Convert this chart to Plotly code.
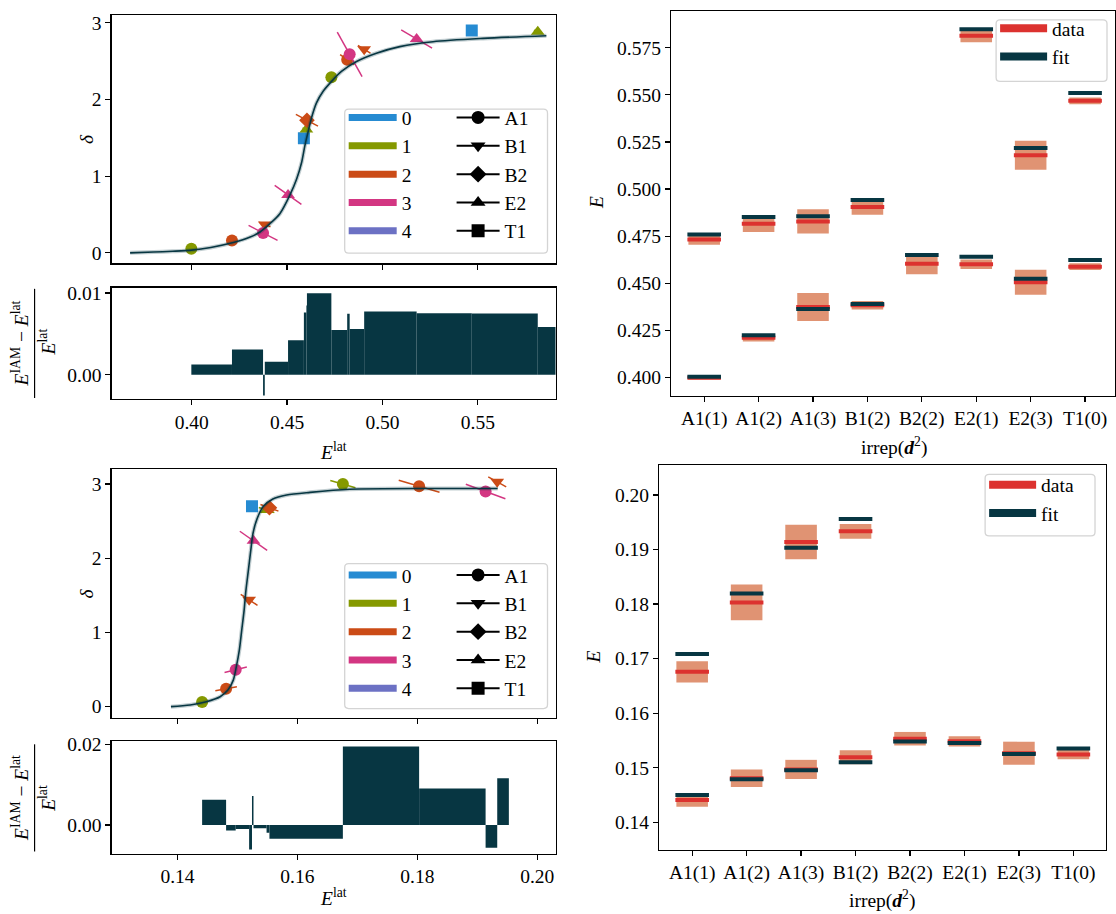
import numpy as np
import plotly.graph_objects as go

W, H = 1116, 914
FONT = "Liberation Serif"
FS = 19.5

# ---------------- data ----------------
categories = ["A1(1)", "A1(2)", "A1(3)", "B1(2)", "B2(2)", "E2(1)", "E2(3)", "T1(0)"]
d2_labels = ["0", "1", "2", "3", "4"]
d2_colors = ["#268bd2", "#859900", "#cb4b16", "#d33682", "#6c71c4"]
irrep_labels = ["A1", "B1", "B2", "E2", "T1"]
irrep_symbols = ["circle", "triangle-down", "diamond", "triangle-up", "square"]

# top dataset
top_cat = ["A1(1)", "A1(1)", "A1(2)", "A1(2)", "A1(3)", "A1(3)", "B1(2)", "B1(2)",
           "B2(2)", "E2(1)", "E2(1)", "E2(3)", "E2(3)", "T1(0)", "T1(0)"]
top_E = [0.3998, 0.4732, 0.4211, 0.4815, 0.4374, 0.4828, 0.4383, 0.4904,
         0.4604, 0.4601, 0.5814, 0.4505, 0.5179, 0.4588, 0.5468]
top_err = [0.0009, 0.0028, 0.0020, 0.0043, 0.0074, 0.0064, 0.0022, 0.0040,
           0.0056, 0.0025, 0.0035, 0.0066, 0.0077, 0.0018, 0.0018]
top_fit = [0.4003, 0.4758, 0.4224, 0.4851, 0.4363, 0.4855, 0.4390, 0.4942,
           0.4650, 0.4640, 0.5848, 0.4524, 0.5218, 0.4623, 0.5509]
top_delta = [0.052, 2.29, 0.16, 2.52, 0.26, 2.59, 0.37, 2.655,
             1.73, 1.61, 2.885, 0.756, 2.79, 1.495, 2.90]
top_dE = [0.0010, 0.0015, 0.0015, 0.0037, 0.0076, 0.0065, 0.0030, 0.0033,
          0.0058, 0.0020, 0.0020, 0.0070, 0.0081, 0.0015, 0.0015]
top_ddelta = [-0.010, -0.030, -0.020, -0.065, -0.097, -0.290, -0.030, -0.050,
              -0.076, -0.020, -0.020, -0.123, -0.119, -0.020, -0.020]
top_curve_E = [0.3677, 0.3800, 0.3900, 0.4000, 0.4100, 0.4218, 0.4300, 0.4358,
               0.4410, 0.4462, 0.4515, 0.4550, 0.4576, 0.4593, 0.4611, 0.4628,
               0.4654, 0.4689, 0.4733, 0.4785, 0.4864, 0.4968, 0.5091, 0.5265,
               0.5527, 0.5859]
top_curve_delta = [0.000, 0.010, 0.020, 0.035, 0.070, 0.134, 0.200, 0.272,
                   0.380, 0.510, 0.756, 0.963, 1.179, 1.395, 1.589, 1.762,
                   1.956, 2.108, 2.237, 2.367, 2.496, 2.604, 2.690, 2.755,
                   2.798, 2.833]

# bottom dataset
bot_cat = ["A1(1)", "A1(1)", "A1(2)", "A1(2)", "A1(3)", "A1(3)", "B1(2)", "B1(2)",
           "B2(2)", "E2(1)", "E2(3)", "T1(0)"]
bot_E = [0.1441, 0.16758, 0.1481, 0.1803, 0.1497, 0.19139, 0.15194, 0.19333,
         0.15533, 0.15485, 0.15267, 0.15242]
bot_err = [0.00124, 0.00194, 0.0016, 0.00328, 0.00176, 0.00316, 0.0013, 0.00134,
           0.00124, 0.00094, 0.00212, 0.00085]
bot_fit = [0.1450, 0.17085, 0.1479, 0.18194, 0.14955, 0.1903, 0.15101, 0.19558,
           0.1548, 0.15455, 0.15255, 0.15352]
bot_delta = [0.062, 3.00, 0.24, 2.97, 0.497, 2.90, 1.44, 3.03,
             2.68, 2.65, 2.235, 2.70]
bot_dE = [0.0010, 0.0021, 0.0018, 0.0034, 0.00186, 0.0033, 0.0014, 0.0015,
          0.0015, 0.0013, 0.00228, 0.0008]
bot_ddelta = [0.016, -0.049, 0.027, -0.080, 0.036, -0.098, -0.074, -0.067,
              -0.045, -0.035, -0.129, -0.010]
bot_curve_E = [0.1389, 0.1421, 0.1448, 0.1471, 0.1484, 0.1493, 0.1498, 0.1503,
               0.1507, 0.1511, 0.1514, 0.1518, 0.1522, 0.1526, 0.1533, 0.1543,
               0.1559, 0.1582, 0.1621, 0.1687, 0.1826, 0.1934]
bot_curve_delta = [0.000, 0.022, 0.067, 0.134, 0.223, 0.357, 0.535, 0.758,
                   1.025, 1.293, 1.560, 1.827, 2.095, 2.340, 2.540, 2.697,
                   2.798, 2.852, 2.888, 2.930, 2.940, 2.940]

# ticks
top_E_ticks = [0.40, 0.45, 0.50, 0.55]
bot_E_ticks = [0.14, 0.16, 0.18, 0.20]
delta_ticks = [0, 1, 2, 3]
top_res_ticks = [0.00, 0.01]
bot_res_ticks = [0.00, 0.02]
top_level_ticks = [0.400, 0.425, 0.450, 0.475, 0.500, 0.525, 0.550, 0.575]
bot_level_ticks = [0.14, 0.15, 0.16, 0.17, 0.18, 0.19, 0.20]

FIT_COLOR = "#073642"
DATA_COLOR = "#dc322f"
BOX_COLOR = "rgba(203,75,22,0.6)"


def px_x(p):
    return p / W


def px_y(p):
    return 1 - p / H


fig = go.Figure()


def add_phase_panel(cat, E, delta, dE, ddelta, cE, cdelta, xa, ya, leg_c, leg_m):
    irr = [c[:2] for c in cat]
    d2 = [int(c[3]) for c in cat]
    for ci in range(4):
        idx = [i for i in range(len(cat)) if d2[i] == ci]
        if not idx:
            continue
        ex, ey = [], []
        for i in idx:
            ex += [E[i] - dE[i], E[i] + dE[i], None]
            ey += [delta[i] - ddelta[i], delta[i] + ddelta[i], None]
        fig.add_trace(go.Scatter(x=ex, y=ey, mode="lines", xaxis=xa, yaxis=ya,
                                 line=dict(color=d2_colors[ci], width=1.5),
                                 showlegend=False, hoverinfo="skip"))
        fig.add_trace(go.Scatter(x=[E[i] for i in idx], y=[delta[i] for i in idx],
                                 mode="markers", xaxis=xa, yaxis=ya,
                                 marker=dict(color=d2_colors[ci], size=12,
                                             symbol=[irrep_symbols[irrep_labels.index(irr[i])] for i in idx],
                                             line=dict(width=0)),
                                 showlegend=False))
    fig.add_trace(go.Scatter(x=cE, y=cdelta, mode="lines", xaxis=xa, yaxis=ya,
                             line=dict(color="rgba(7,54,66,0.25)", width=4, shape="spline", smoothing=0.8),
                             showlegend=False, hoverinfo="skip"))
    fig.add_trace(go.Scatter(x=cE, y=cdelta, mode="lines", xaxis=xa, yaxis=ya,
                             line=dict(color=FIT_COLOR, width=1.6, shape="spline", smoothing=0.8),
                             showlegend=False))
    for k, lab in enumerate(d2_labels):
        fig.add_trace(go.Scatter(x=[None], y=[None], mode="lines", xaxis=xa, yaxis=ya,
                                 line=dict(color=d2_colors[k], width=7), name=lab,
                                 legend=leg_c, legendgroup=leg_c + lab))
    for k, lab in enumerate(irrep_labels):
        fig.add_trace(go.Scatter(x=[None], y=[None], mode="lines+markers", xaxis=xa, yaxis=ya,
                                 line=dict(color="black", width=2),
                                 marker=dict(color="black", size=13, symbol=irrep_symbols[k]),
                                 name=lab, legend=leg_m, legendgroup=leg_m + lab))


def add_residual_panel(E, fit, xa, ya):
    E = np.asarray(E)
    fit = np.asarray(fit)
    order = np.argsort(E, kind="stable")
    Es = E[order]
    res = (fit[order] - Es) / Es
    widths = np.diff(Es)
    widths = np.append(widths, widths[-1])
    fig.add_trace(go.Bar(x=Es, y=res, width=widths, offset=0, base=0, xaxis=xa, yaxis=ya,
                         marker=dict(color=FIT_COLOR, line=dict(width=0)),
                         showlegend=False))


def add_level_panel(cat, E, err, fit, xa, ya, leg):
    E = np.asarray(E)
    err = np.asarray(err)
    fig.add_trace(go.Bar(x=cat, y=2 * err, base=E - err, width=0.58, xaxis=xa, yaxis=ya,
                         marker=dict(color=BOX_COLOR, line=dict(width=0)), showlegend=False))
    fig.add_trace(go.Scatter(x=cat, y=E, mode="markers", xaxis=xa, yaxis=ya,
                             marker=dict(symbol="line-ew", size=24, line=dict(width=4, color=DATA_COLOR)),
                             showlegend=False))
    fig.add_trace(go.Scatter(x=cat, y=fit, mode="markers", xaxis=xa, yaxis=ya,
                             marker=dict(symbol="line-ew", size=24, line=dict(width=4, color=FIT_COLOR)),
                             showlegend=False))
    for lab, col in (("data", DATA_COLOR), ("fit", FIT_COLOR)):
        fig.add_trace(go.Scatter(x=[None], y=[None], mode="lines", xaxis=xa, yaxis=ya,
                                 line=dict(color=col, width=8), name=lab,
                                 legend=leg, legendgroup=leg + lab))


add_phase_panel(top_cat, top_E, top_delta, top_dE, top_ddelta, top_curve_E, top_curve_delta,
                "x", "y", "legend", "legend2")
add_residual_panel(top_E, top_fit, "x2", "y2")
add_level_panel(top_cat, top_E, top_err, top_fit, "x3", "y3", "legend3")
add_phase_panel(bot_cat, bot_E, bot_delta, bot_dE, bot_ddelta, bot_curve_E, bot_curve_delta,
                "x4", "y4", "legend4", "legend5")
add_residual_panel(bot_E, bot_fit, "x5", "y5")
add_level_panel(bot_cat, bot_E, bot_err, bot_fit, "x6", "y6", "legend6")

tickfont = dict(family=FONT, size=FS, color="black")
ax = dict(showline=True, linecolor="black", linewidth=1.2, mirror=True, ticks="outside",
          ticklen=5, tickwidth=1.2, tickcolor="black", showgrid=False, zeroline=False,
          tickfont=tickfont)


def dom_x(a, b):
    return [px_x(a), min(1.0, px_x(b))]


def dom_y(top, bottom):
    return [px_y(bottom), px_y(top)]


layout = dict(
    width=W, height=H, margin=dict(l=0, r=0, t=0, b=0),
    paper_bgcolor="white", plot_bgcolor="white", barmode="overlay",
    font=dict(family=FONT, size=FS, color="black"),
    xaxis=dict(ax, domain=dom_x(111.7, 556), anchor="y", range=[0.358, 0.5907],
               tickvals=top_E_ticks, showticklabels=False),
    yaxis=dict(ax, domain=dom_y(8.3, 258.3), anchor="x", range=[-0.137, 3.10], tickvals=delta_ticks),
    xaxis2=dict(ax, domain=dom_x(111.7, 556), anchor="y2", range=[0.358, 0.5907], matches="x",
                tickvals=top_E_ticks, tickformat=".2f"),
    yaxis2=dict(ax, domain=dom_y(282.7, 395.3), anchor="x2", range=[-0.00299, 0.01068],
                tickvals=top_res_ticks, tickformat=".2f"),
    xaxis3=dict(ax, domain=dom_x(671.6, 1116), anchor="y3", type="category",
                categoryorder="array", categoryarray=categories, range=[-0.61, 7.55]),
    yaxis3=dict(ax, domain=dom_y(4.0, 391.7), anchor="x3", range=[0.3903, 0.5945],
                tickvals=top_level_ticks, tickformat=".3f"),
    xaxis4=dict(ax, domain=dom_x(111.7, 556), anchor="y4", range=[0.129, 0.20305],
                tickvals=bot_E_ticks, showticklabels=False),
    yaxis4=dict(ax, domain=dom_y(466, 716.7), anchor="x4", range=[-0.156, 3.197], tickvals=delta_ticks),
    xaxis5=dict(ax, domain=dom_x(111.7, 556), anchor="y5", range=[0.129, 0.20305], matches="x4",
                tickvals=bot_E_ticks, tickformat=".2f"),
    yaxis5=dict(ax, domain=dom_y(740.0, 853.3), anchor="x5", range=[-0.00716, 0.02081],
                tickvals=bot_res_ticks, tickformat=".2f"),
    xaxis6=dict(ax, domain=dom_x(659.7, 1106.5), anchor="y6", type="category",
                categoryorder="array", categoryarray=categories, range=[-0.607, 7.59]),
    yaxis6=dict(ax, domain=dom_y(461.7, 849.3), anchor="x6", range=[0.13498, 0.20545],
                tickvals=bot_level_ticks, tickformat=".2f"),
)

legfont = dict(family=FONT, size=FS, color="black")


def leg(xp, yp, itemwidth):
    return dict(x=px_x(xp), y=px_y(yp), xanchor="left", yanchor="top", bgcolor="rgba(0,0,0,0)",
                borderwidth=0, font=legfont, itemwidth=itemwidth, tracegroupgap=0,
                traceorder="grouped", itemclick=False, itemdoubleclick=False)


layout["legend"] = leg(344, 92, 48)
layout["legend2"] = leg(452, 92, 43)
layout["legend3"] = leg(996, 2, 47)
layout["legend4"] = leg(344, 553, 48)
layout["legend5"] = leg(452, 553, 43)
layout["legend6"] = leg(985, 462, 47)


def rounded_box(x0, y0, x1, y1, r=4):
    def P(x, y):
        return f"{px_x(x):.5f},{px_y(y):.5f}"
    path = (f"M{P(x0 + r, y0)} L{P(x1 - r, y0)} Q{P(x1, y0)} {P(x1, y0 + r)} "
            f"L{P(x1, y1 - r)} Q{P(x1, y1)} {P(x1 - r, y1)} L{P(x0 + r, y1)} "
            f"Q{P(x0, y1)} {P(x0, y1 - r)} L{P(x0, y0 + r)} Q{P(x0, y0)} {P(x0 + r, y0)} Z")
    return dict(type="path", xref="paper", yref="paper", path=path,
                line=dict(color="#d4d4d4", width=1.3), fillcolor="rgba(255,255,255,0.8)", layer="above")


shapes = [
    rounded_box(345, 103, 548, 248),
    rounded_box(997, 13, 1108, 75),
    rounded_box(345, 561, 548, 707),
    rounded_box(986, 471, 1096, 533),
    # fraction bars of residual y-labels
    dict(type="line", xref="paper", yref="paper", x0=px_x(34.6), x1=px_x(34.6),
         y0=px_y(284), y1=px_y(394), line=dict(color="black", width=1.2)),
    dict(type="line", xref="paper", yref="paper", x0=px_x(34.6), x1=px_x(34.6),
         y0=px_y(743), y1=px_y(851), line=dict(color="black", width=1.2)),
]
layout["shapes"] = shapes


def ann(text, xp, yp, angle=0, size=FS):
    return dict(text=text, x=px_x(xp), y=px_y(yp), xref="paper", yref="paper", showarrow=False,
                textangle=angle, xanchor="center", yanchor="middle",
                font=dict(family=FONT, size=size, color="black"))


num = "<i>E</i><sup>IAM</sup> − <i>E</i><sup>lat</sup>"
den = "<i>E</i><sup>lat</sup>"
layout["annotations"] = [
    ann("<i>δ</i>", 87, 133, -90),
    ann("<i>δ</i>", 87, 591, -90),
    ann(num, 20, 339, -90),
    ann(den, 47, 337, -90),
    ann(num, 20, 797, -90),
    ann(den, 47, 797, -90),
    ann("<i>E</i><sup>lat</sup>", 334, 447),
    ann("<i>E</i><sup>lat</sup>", 334, 897),
    ann("<i>E</i>", 597, 197, -90),
    ann("<i>E</i>", 595, 655, -90),
    ann("irrep(<b><i>d</i></b><sup>2</sup>)", 895, 443),
    ann("irrep(<b><i>d</i></b><sup>2</sup>)", 883, 899),
]

fig.update_layout(**layout)
fig.write_html("out.html", config={"displayModeBar": False, "staticPlot": True},
               post_script="document.body.style.margin='0';document.body.style.padding='0';"
                           "document.body.style.overflow='hidden';")
